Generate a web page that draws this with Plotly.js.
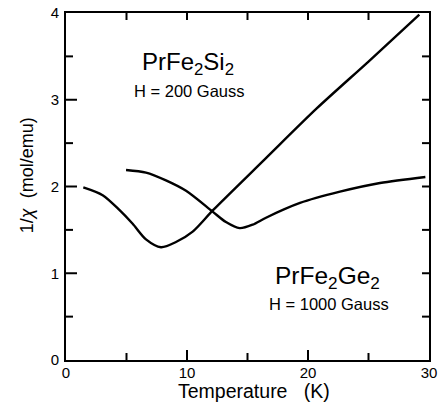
<!DOCTYPE html>
<html>
<head>
<meta charset="utf-8">
<script src="https://cdn.plot.ly/plotly-3.0.1.min.js"></script>
<style>html,body{margin:0;padding:0;background:#fff;}#chart{width:440px;height:408px;}</style>
</head>
<body>
<div id="chart"></div>
<script>
// PrFe2Si2 (H = 200 Gauss)
const siT = [1.43, 3.03, 4.41, 5.51, 6.61, 7.85, 9.09, 10.47, 12.17, 16.4, 20.72, 25.0, 29.2];
const siInvChi = [1.99, 1.90, 1.73, 1.57, 1.39, 1.30, 1.36, 1.48, 1.73, 2.31, 2.90, 3.44, 3.98];
// PrFe2Ge2 (H = 1000 Gauss)
const geT = [4.96, 6.61, 8.26, 9.92, 12.12, 13.22, 14.35, 15.43, 16.53, 19.34, 22.64, 25.95, 29.7];
const geInvChi = [2.19, 2.16, 2.07, 1.95, 1.71, 1.59, 1.52, 1.56, 1.64, 1.81, 1.94, 2.04, 2.11];

const xTickVals = [0, 10, 20, 30];
const xTickText = ['0', '10', '20', '30'];
const xMajorInner = [10, 20];
const xMinor = [5, 15, 25];
const yTickVals = [0, 1, 2, 3, 4];
const yTickText = ['0', '1', '2', '3', '4'];
const yMajorInner = [1, 2, 3];
const yMinor = [0.5, 1.5, 2.5, 3.5];

const X_MIN = 0, X_MAX = 30, Y_MIN = 0, Y_MAX = 4;
const W = 440, H = 408, M = {l: 66, r: 11, t: 13, b: 48};
const plotW = W - M.l - M.r, plotH = H - M.t - M.b;
const pxX = (X_MAX - X_MIN) / plotW;   // data units per pixel (x)
const pxY = (Y_MAX - Y_MIN) / plotH;   // data units per pixel (y)

const font = 'Liberation Sans, Arial, Helvetica, sans-serif';
const lineStyle = {color: 'black', width: 2.4, shape: 'spline', smoothing: 0.8};

// inside tick marks (long on bottom/left majors, short elsewhere), built from the tick arrays
const tx = [], ty = [];
function xTick(v, len, atTop) {
  const y0 = atTop ? Y_MAX : Y_MIN, y1 = atTop ? Y_MAX - len * pxY : Y_MIN + len * pxY;
  tx.push(v, v, null); ty.push(y0, y1, null);
}
function yTick(v, len, atRight) {
  const x0 = atRight ? X_MAX : X_MIN, x1 = atRight ? X_MAX - len * pxX : X_MIN + len * pxX;
  tx.push(x0, x1, null); ty.push(v, v, null);
}
xMajorInner.forEach(v => { xTick(v, 10, false); xTick(v, 7, true); });
xMinor.forEach(v => { xTick(v, 7, false); xTick(v, 7, true); });
yMajorInner.forEach(v => { yTick(v, 11, false); yTick(v, 7, true); });
yMinor.forEach(v => { yTick(v, 7, false); yTick(v, 7, true); });

const traces = [
  {x: tx, y: ty, mode: 'lines', line: {color: 'black', width: 2}, hoverinfo: 'skip'},
  {x: siT, y: siInvChi, mode: 'lines', line: lineStyle, hoverinfo: 'skip'},
  {x: geT, y: geInvChi, mode: 'lines', line: lineStyle, hoverinfo: 'skip'}
];

const layout = {
  width: W, height: H,
  margin: M,
  paper_bgcolor: 'white', plot_bgcolor: 'white',
  showlegend: false,
  xaxis: {
    range: [X_MIN, X_MAX], tickvals: xTickVals, ticktext: xTickText,
    showgrid: false, zeroline: false, showline: true, mirror: true, linecolor: 'black', linewidth: 1.8,
    ticks: '', ticklabelstandoff: -2,
    tickfont: {family: font, size: 15, color: 'black'}
  },
  yaxis: {
    range: [Y_MIN, Y_MAX], tickvals: yTickVals, ticktext: yTickText,
    showgrid: false, zeroline: false, showline: true, mirror: true, linecolor: 'black', linewidth: 1.8,
    ticks: '', ticklabelstandoff: 2,
    tickfont: {family: font, size: 15, color: 'black'}
  },
  annotations: [
    {x: 0.518, y: -0.089, xref: 'paper', yref: 'paper', xanchor: 'center', yanchor: 'middle', showarrow: false,
     text: 'Temperature&nbsp;&nbsp;&nbsp;(K)', font: {family: font, size: 19.5, color: 'black'}},
    {x: -0.107, y: 0.533, xref: 'paper', yref: 'paper', xanchor: 'center', yanchor: 'middle', showarrow: false, textangle: -90,
     text: '1/<i>χ</i>&nbsp;&nbsp;(mol/emu)', font: {family: font, size: 18, color: 'black'}},
    {x: 10.08, y: 3.42, xref: 'x', yref: 'y', showarrow: false,
     text: 'PrFe<sub>2</sub>Si<sub>2</sub>', font: {family: font, size: 24, color: 'black'}},
    {x: 10.2, y: 3.1, xref: 'x', yref: 'y', showarrow: false,
     text: 'H = 200 Gauss', font: {family: font, size: 16.5, color: 'black'}},
    {x: 21.65, y: 0.95, xref: 'x', yref: 'y', showarrow: false,
     text: 'PrFe<sub>2</sub>Ge<sub>2</sub>', font: {family: font, size: 24.5, color: 'black'}},
    {x: 21.7, y: 0.64, xref: 'x', yref: 'y', showarrow: false,
     text: 'H = 1000 Gauss', font: {family: font, size: 16.5, color: 'black'}}
  ]
};

Plotly.newPlot('chart', traces, layout, {displayModeBar: false});
</script>
</body>
</html>
